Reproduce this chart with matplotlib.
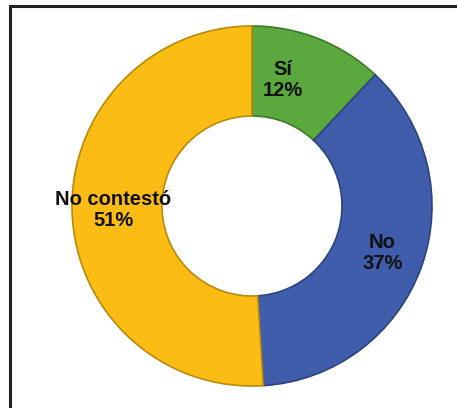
import numpy as np
import matplotlib.pyplot as plt
from matplotlib.patches import Rectangle

labels = ['Sí', 'No', 'No contestó']
values = [12, 37, 51]
colors = ['#5aa83e', '#3f5dab', '#fbbd13']
edges = ['#3e7a2a', '#2c4380', '#b8890c']
# label offset along angle (deg) and radius, per slice
ang_shift = [8, 0, 0]
lab_r = [0.72, 0.77, 0.77]

fig = plt.figure(figsize=(4.57, 4.08), dpi=100)
fig.patches.append(Rectangle((10 / 457, -0.1), 1.2, 1.1 - 6 / 408, transform=fig.transFigure,
                             fill=False, edgecolor='#222222', linewidth=2.2))

ax = fig.add_axes([72 / 457, 22 / 408, 360 / 457, 360 / 408])
wedges, _ = ax.pie(values, colors=colors, startangle=90, counterclock=False, radius=1,
                   wedgeprops=dict(width=0.5, linewidth=1.2))
for w, ec in zip(wedges, edges):
    w.set_edgecolor(ec)

for i, w in enumerate(wedges):
    mid = np.deg2rad((w.theta1 + w.theta2) / 2 + ang_shift[i])
    ax.text(lab_r[i] * np.cos(mid), lab_r[i] * np.sin(mid),
            f'{labels[i]}\n{values[i]}%', ha='center', va='center',
            fontsize=14.5, fontweight='bold', family='Liberation Sans', color='#111111',
            linespacing=1.15)

ax.set_xlim(-1, 1)
ax.set_ylim(-1, 1)
ax.set_aspect('equal')
ax.axis('off')

fig.savefig('out.png', dpi=100)
